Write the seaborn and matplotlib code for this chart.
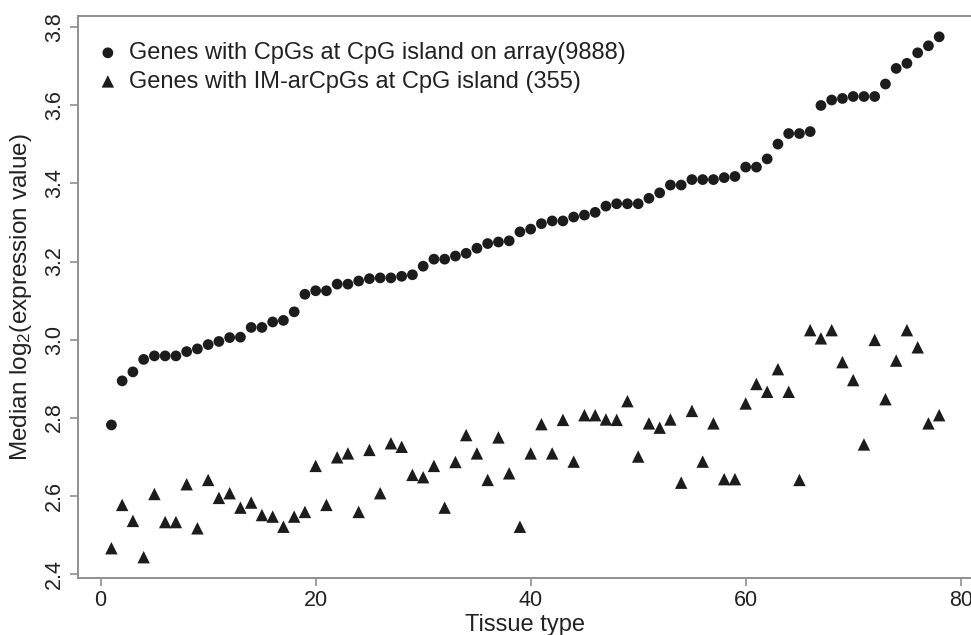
import numpy as np
import pandas as pd
import matplotlib
matplotlib.use("Agg")
import matplotlib.pyplot as plt
import seaborn as sns

# ---------------- data ----------------
tissue = list(range(1, 79))

all_cpg = [2.781, 2.894, 2.917, 2.949, 2.958, 2.958, 2.958, 2.969, 2.976, 2.987,
           2.995, 3.005, 3.006, 3.031, 3.031, 3.045, 3.049, 3.071, 3.116, 3.125,
           3.125, 3.142, 3.142, 3.150, 3.156, 3.158, 3.158, 3.162, 3.166, 3.188,
           3.206, 3.206, 3.214, 3.221, 3.234, 3.246, 3.250, 3.253, 3.276, 3.283,
           3.297, 3.304, 3.304, 3.314, 3.319, 3.326, 3.342, 3.348, 3.348, 3.348,
           3.362, 3.376, 3.396, 3.396, 3.410, 3.410, 3.410, 3.415, 3.418, 3.442,
           3.442, 3.463, 3.501, 3.528, 3.528, 3.533, 3.600, 3.614, 3.618, 3.623,
           3.623, 3.623, 3.655, 3.695, 3.708, 3.735, 3.753, 3.776]

im_cpg = [2.465, 2.576, 2.535, 2.442, 2.604, 2.532, 2.532, 2.629, 2.516, 2.640,
          2.594, 2.606, 2.569, 2.582, 2.550, 2.546, 2.520, 2.546, 2.558, 2.676,
          2.576, 2.698, 2.708, 2.558, 2.717, 2.606, 2.734, 2.725, 2.653, 2.647,
          2.676, 2.569, 2.686, 2.755, 2.708, 2.640, 2.749, 2.657, 2.520, 2.708,
          2.783, 2.708, 2.794, 2.687, 2.806, 2.806, 2.795, 2.794, 2.842, 2.700,
          2.785, 2.774, 2.795, 2.633, 2.817, 2.687, 2.785, 2.642, 2.642, 2.836,
          2.886, 2.866, 2.924, 2.866, 2.640, 3.024, 3.003, 3.024, 2.942, 2.896,
          2.731, 2.999, 2.847, 2.946, 3.024, 2.980, 2.785, 2.806]

label_all = "Genes with CpGs at CpG island on array(9888)"
label_im = "Genes with IM-arCpGs at CpG island (355)"

x_ticks = [0, 20, 40, 60, 80]
y_ticks = [2.4, 2.6, 2.8, 3.0, 3.2, 3.4, 3.6, 3.8]
y_tick_labels = ["2.4", "2.6", "2.8", "3.0", "3.2", "3.4", "3.6", "3.8"]
x_label = "Tissue type"
y_label = r"Median log$_2$(expression value)"

df_all = pd.DataFrame({"tissue": tissue, "value": all_cpg})
df_im = pd.DataFrame({"tissue": tissue, "value": im_cpg})

# ---------------- style ----------------
sns.set_theme(style="white")
plt.rcParams["font.family"] = ["Liberation Sans", "DejaVu Sans"]
plt.rcParams["mathtext.default"] = "regular"

TXT = "#222222"
SPINE = "#8f8f8f"

W, H = 971, 635
fig = plt.figure(figsize=(W / 100, H / 100), dpi=100)
left_px, right_px, top_px, bottom_px = 78.3, 972.3, 16.0, 578.0
ax = fig.add_axes([left_px / W, 1 - bottom_px / H,
                   (right_px - left_px) / W, (bottom_px - top_px) / H])

sns.scatterplot(data=df_all, x="tissue", y="value", marker="o", s=60,
                color="#1c1c1c", edgecolor="none", linewidth=0,
                label=label_all, ax=ax, zorder=3)
sns.scatterplot(data=df_im, x="tissue", y="value", marker="^", s=80,
                color="#1c1c1c", edgecolor="none", linewidth=0,
                label=label_im, ax=ax, zorder=3)

# R-like 4% range expansion
xr = max(tissue) - min(tissue)
ax.set_xlim(min(tissue) - 0.04 * xr, max(tissue) + 0.04 * xr)
ymin = min(min(all_cpg), min(im_cpg))
ymax = max(max(all_cpg), max(im_cpg))
yr = ymax - ymin
ax.set_ylim(ymin - 0.04 * yr, ymax + 0.04 * yr)

ax.set_xticks(x_ticks)
ax.set_xticklabels([str(t) for t in x_ticks])
ax.set_yticks(y_ticks)
ax.set_yticklabels(y_tick_labels, rotation=90, va="center")

for sp in ax.spines.values():
    sp.set_visible(True)
    sp.set_color(SPINE)
    sp.set_linewidth(1.4)

ax.tick_params(axis="both", which="major", direction="out", length=5.5,
               width=1.2, color=SPINE, labelcolor=TXT, labelsize=15.5,
               bottom=True, left=True)
ax.tick_params(axis="x", pad=3)
ax.tick_params(axis="y", pad=4)

ax.set_xlabel(x_label, fontsize=17, color=TXT, va="top")
ax.set_ylabel(y_label, fontsize=17.5, color=TXT)
ax.xaxis.set_label_coords(0.5, (bottom_px - 614.0) / (bottom_px - top_px))
ax.yaxis.set_label_coords((34.0 - left_px) / (right_px - left_px), 0.5)

leg = ax.legend(loc="upper left",
                bbox_to_anchor=(98.4 / W, 1 - 42.0 / H),
                bbox_transform=fig.transFigure,
                frameon=False, fontsize=17, borderpad=0, borderaxespad=0,
                handlelength=0.8, handletextpad=0.5, labelspacing=0.28)
for t in leg.get_texts():
    t.set_color(TXT)

fig.savefig("out.png", dpi=100)
